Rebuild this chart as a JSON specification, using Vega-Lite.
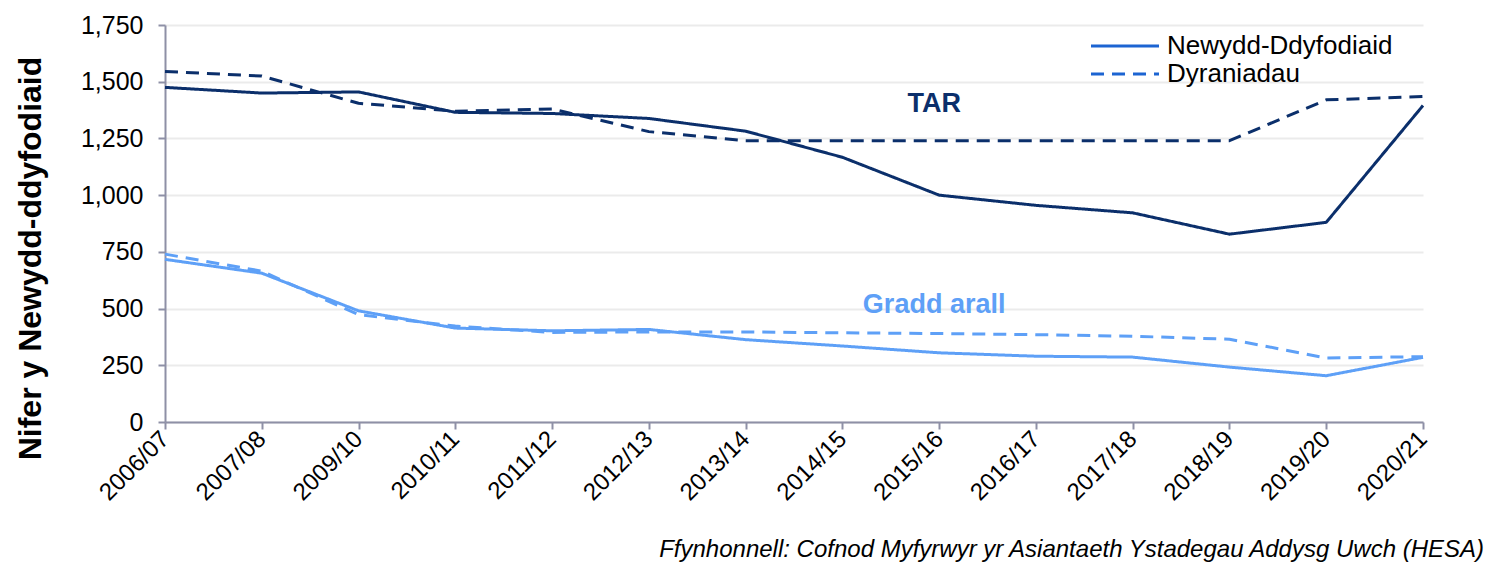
{
  "$schema": "https://vega.github.io/schema/vega-lite/v6.json",
  "autosize": {"type": "none"},
  "padding": {"left": 165, "top": 25, "right": 67, "bottom": 141},
  "width": 1258,
  "height": 397,
  "background": "white",
  "config": {
    "font": "Liberation Sans",
    "view": {"stroke": null}
  },
  "title": {
    "text": "Ffynhonnell: Cofnod Myfyrwyr yr Asiantaeth Ystadegau Addysg Uwch (HESA)",
    "orient": "bottom",
    "anchor": "end",
    "frame": "group",
    "fontStyle": "italic",
    "fontWeight": "normal",
    "fontSize": 24,
    "color": "#000000",
    "offset": 33,
    "dx": 61
  },
  "datasets": {
    "labels": [
      {"year": "2015/16", "value": 1400, "label": "TAR", "group": "TAR"},
      {"year": "2015/16", "value": 516, "label": "Gradd arall", "group": "Gradd arall"}
    ]
  },
  "data": {"values": [
    {"year": "2006/07", "group": "TAR", "measure": "Newydd-Ddyfodiaid", "value": 1475},
    {"year": "2007/08", "group": "TAR", "measure": "Newydd-Ddyfodiaid", "value": 1450},
    {"year": "2009/10", "group": "TAR", "measure": "Newydd-Ddyfodiaid", "value": 1455},
    {"year": "2010/11", "group": "TAR", "measure": "Newydd-Ddyfodiaid", "value": 1365},
    {"year": "2011/12", "group": "TAR", "measure": "Newydd-Ddyfodiaid", "value": 1360},
    {"year": "2012/13", "group": "TAR", "measure": "Newydd-Ddyfodiaid", "value": 1338},
    {"year": "2013/14", "group": "TAR", "measure": "Newydd-Ddyfodiaid", "value": 1282},
    {"year": "2014/15", "group": "TAR", "measure": "Newydd-Ddyfodiaid", "value": 1167},
    {"year": "2015/16", "group": "TAR", "measure": "Newydd-Ddyfodiaid", "value": 1000},
    {"year": "2016/17", "group": "TAR", "measure": "Newydd-Ddyfodiaid", "value": 955},
    {"year": "2017/18", "group": "TAR", "measure": "Newydd-Ddyfodiaid", "value": 922},
    {"year": "2018/19", "group": "TAR", "measure": "Newydd-Ddyfodiaid", "value": 828},
    {"year": "2019/20", "group": "TAR", "measure": "Newydd-Ddyfodiaid", "value": 880},
    {"year": "2020/21", "group": "TAR", "measure": "Newydd-Ddyfodiaid", "value": 1395},
    {"year": "2006/07", "group": "TAR", "measure": "Dyraniadau", "value": 1545},
    {"year": "2007/08", "group": "TAR", "measure": "Dyraniadau", "value": 1525},
    {"year": "2009/10", "group": "TAR", "measure": "Dyraniadau", "value": 1405},
    {"year": "2010/11", "group": "TAR", "measure": "Dyraniadau", "value": 1370},
    {"year": "2011/12", "group": "TAR", "measure": "Dyraniadau", "value": 1380},
    {"year": "2012/13", "group": "TAR", "measure": "Dyraniadau", "value": 1280},
    {"year": "2013/14", "group": "TAR", "measure": "Dyraniadau", "value": 1240},
    {"year": "2014/15", "group": "TAR", "measure": "Dyraniadau", "value": 1240},
    {"year": "2015/16", "group": "TAR", "measure": "Dyraniadau", "value": 1240},
    {"year": "2016/17", "group": "TAR", "measure": "Dyraniadau", "value": 1240},
    {"year": "2017/18", "group": "TAR", "measure": "Dyraniadau", "value": 1240},
    {"year": "2018/19", "group": "TAR", "measure": "Dyraniadau", "value": 1240},
    {"year": "2019/20", "group": "TAR", "measure": "Dyraniadau", "value": 1420},
    {"year": "2020/21", "group": "TAR", "measure": "Dyraniadau", "value": 1435},
    {"year": "2006/07", "group": "Gradd arall", "measure": "Newydd-Ddyfodiaid", "value": 717},
    {"year": "2007/08", "group": "Gradd arall", "measure": "Newydd-Ddyfodiaid", "value": 656},
    {"year": "2009/10", "group": "Gradd arall", "measure": "Newydd-Ddyfodiaid", "value": 490},
    {"year": "2010/11", "group": "Gradd arall", "measure": "Newydd-Ddyfodiaid", "value": 414},
    {"year": "2011/12", "group": "Gradd arall", "measure": "Newydd-Ddyfodiaid", "value": 402},
    {"year": "2012/13", "group": "Gradd arall", "measure": "Newydd-Ddyfodiaid", "value": 408},
    {"year": "2013/14", "group": "Gradd arall", "measure": "Newydd-Ddyfodiaid", "value": 363},
    {"year": "2014/15", "group": "Gradd arall", "measure": "Newydd-Ddyfodiaid", "value": 335},
    {"year": "2015/16", "group": "Gradd arall", "measure": "Newydd-Ddyfodiaid", "value": 305},
    {"year": "2016/17", "group": "Gradd arall", "measure": "Newydd-Ddyfodiaid", "value": 290},
    {"year": "2017/18", "group": "Gradd arall", "measure": "Newydd-Ddyfodiaid", "value": 286},
    {"year": "2018/19", "group": "Gradd arall", "measure": "Newydd-Ddyfodiaid", "value": 242},
    {"year": "2019/20", "group": "Gradd arall", "measure": "Newydd-Ddyfodiaid", "value": 204},
    {"year": "2020/21", "group": "Gradd arall", "measure": "Newydd-Ddyfodiaid", "value": 285},
    {"year": "2006/07", "group": "Gradd arall", "measure": "Dyraniadau", "value": 740},
    {"year": "2007/08", "group": "Gradd arall", "measure": "Dyraniadau", "value": 665},
    {"year": "2009/10", "group": "Gradd arall", "measure": "Dyraniadau", "value": 473},
    {"year": "2010/11", "group": "Gradd arall", "measure": "Dyraniadau", "value": 423},
    {"year": "2011/12", "group": "Gradd arall", "measure": "Dyraniadau", "value": 395},
    {"year": "2012/13", "group": "Gradd arall", "measure": "Dyraniadau", "value": 397},
    {"year": "2013/14", "group": "Gradd arall", "measure": "Dyraniadau", "value": 397},
    {"year": "2014/15", "group": "Gradd arall", "measure": "Dyraniadau", "value": 393},
    {"year": "2015/16", "group": "Gradd arall", "measure": "Dyraniadau", "value": 390},
    {"year": "2016/17", "group": "Gradd arall", "measure": "Dyraniadau", "value": 385},
    {"year": "2017/18", "group": "Gradd arall", "measure": "Dyraniadau", "value": 378},
    {"year": "2018/19", "group": "Gradd arall", "measure": "Dyraniadau", "value": 365},
    {"year": "2019/20", "group": "Gradd arall", "measure": "Dyraniadau", "value": 282},
    {"year": "2020/21", "group": "Gradd arall", "measure": "Dyraniadau", "value": 288}
  ]},
  "encoding": {
    "x": {
      "field": "year", "type": "ordinal",
      "scale": {"type": "point", "padding": 0},
      "axis": {
        "title": null,
        "labelAngle": -45,
        "labelAlign": "right",
        "labelBaseline": "middle",
        "labelFontSize": 24,
        "labelColor": "#000000",
        "labelPadding": 6,
        "tickSize": 7,
        "tickColor": "#8e90a6",
        "domainColor": "#8e90a6",
        "domainWidth": 2,
        "tickWidth": 2,
        "grid": false
      }
    },
    "y": {
      "field": "value", "type": "quantitative",
      "scale": {"domain": [0, 1750], "nice": false},
      "axis": {
        "title": "Nifer y Newydd-ddyfodiaid",
        "titleFontSize": 32,
        "titleFontWeight": "bold",
        "titleColor": "#000000",
        "titleX": -135,
        "titleY": 233,
        "titleBaseline": "middle",
        "titleAngle": -90,
        "titleAlign": "center",
        "values": [0, 250, 500, 750, 1000, 1250, 1500, 1750],
        "format": ",d",
        "labelFontSize": 25,
        "labelColor": "#000000",
        "labelPadding": 15,
        "tickSize": 7,
        "tickColor": "#8e90a6",
        "domainColor": "#8e90a6",
        "domainWidth": 2,
        "tickWidth": 2,
        "gridColor": "#ebebeb",
        "gridWidth": 2
      }
    }
  },
  "layer": [
    {
      "mark": {"type": "line", "strokeWidth": 3, "strokeJoin": "round"},
      "encoding": {
        "color": {
          "field": "group", "type": "nominal",
          "scale": {"domain": ["TAR", "Gradd arall"], "range": ["#0b2f6b", "#5ea0f7"]},
          "legend": null
        },
        "strokeDash": {
          "field": "measure", "type": "nominal",
          "scale": {"domain": ["Newydd-Ddyfodiaid", "Dyraniadau"], "range": [[1, 0], [13, 8]]},
          "legend": {
            "title": null,
            "orient": "none",
            "legendX": 947,
            "legendY": 8,
            "symbolType": "M-4,0L4,0",
            "symbolSize": 289,
            "symbolStrokeWidth": 3,
            "symbolStrokeColor": "#1c64d2",
            "symbolFillColor": "transparent",
            "labelFontSize": 26,
            "labelLimit": 0,
            "labelColor": "#000000",
            "labelOffset": 29,
            "rowPadding": 2
          }
        }
      }
    },
    {
      "data": {"name": "labels"},
      "mark": {"type": "text", "fontSize": 27, "fontWeight": "bold", "dx": -5},
      "encoding": {
        "text": {"field": "label"},
        "color": {"field": "group", "type": "nominal", "legend": null}
      }
    }
  ]
}
